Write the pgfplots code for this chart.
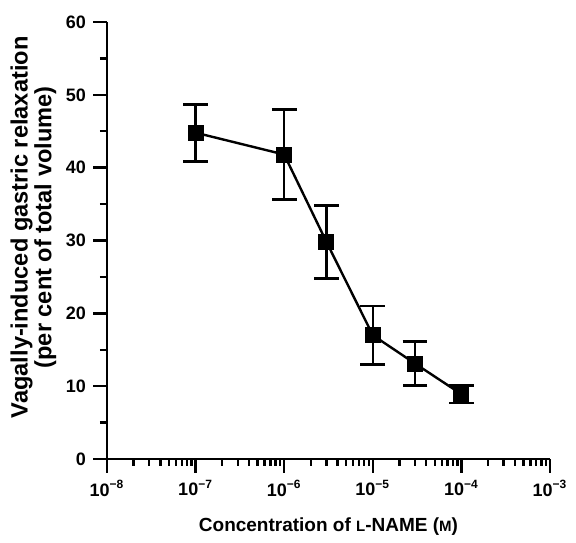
\documentclass[border=0pt]{standalone}
\usepackage{pgfplots}
\pgfplotsset{compat=1.18}
\usepackage{fontspec}
\setmainfont{Liberation Sans}
\begin{document}
\begin{tikzpicture}
\begin{axis}[
  scale only axis, width=221.5pt, height=218.5pt,
  xmode=log, xmin=1e-8, xmax=1e-3, ymin=0, ymax=60,
  axis x line=bottom, axis y line=left,
  axis line style={-, line width=1.4pt},
  tick align=outside, tick style={black, line width=1.2pt},
  major tick length=7pt, minor tick length=3.5pt,
  xtick={1e-8,1e-7,1e-6,1e-5,1e-4,1e-3},
  xticklabels={10\textsuperscript{−8},10\textsuperscript{−7},10\textsuperscript{−6},10\textsuperscript{−5},10\textsuperscript{−4},10\textsuperscript{−3}},
  ytick={0,10,...,60}, minor y tick num=1,
  /pgf/number format/assume math mode=true,
  ticklabel style={font=\fontsize{9}{11}\selectfont\bfseries},
  xlabel style={font=\fontsize{9.5}{11.5}\selectfont\bfseries, yshift=-4pt},
  xlabel={Concentration of {\fontsize{7.5}{9}\selectfont L}-NAME ({\fontsize{7.5}{9}\selectfont M})},
  ylabel={Vagally-induced gastric relaxation\\(per cent of total volume)},
  ylabel style={font=\fontsize{11.8}{11.8}\selectfont\bfseries, align=center,
    at={(ticklabel cs:0.53)}},
  ylabel shift=-2pt,
  clip=false,
]
\addplot[black, line width=1.2pt, mark=square*, mark size=3.4pt,
  error bars/.cd, y dir=both, y explicit,
  error bar style={line width=1.2pt},
  error mark options={rotate=90, mark size=6.2pt, line width=1.4pt}]
  coordinates {
  (1e-7,44.8) +- (0,3.9)
  (1e-6,41.8) +- (0,6.2)
  (3e-6,29.8) +- (0,5.0)
  (1e-5,17.0) +- (0,4.0)
  (3e-5,13.1) +- (0,3.0)
  (1e-4,8.9) +- (0,1.2)
  };
\end{axis}
\path ([shift={(-53.5pt,-37pt)}]current axis.south west) rectangle ([shift={(13pt,11pt)}]current axis.north east);
\end{tikzpicture}
\end{document}
